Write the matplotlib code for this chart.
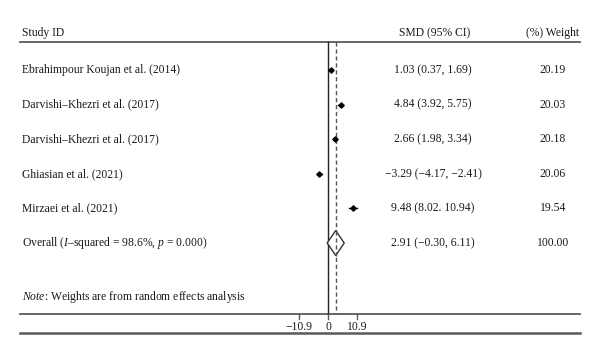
import matplotlib
matplotlib.use("Agg")
import matplotlib.pyplot as plt
from matplotlib.transforms import blended_transform_factory
from matplotlib.patches import Polygon

studies = ["Ebrahimpour Koujan et al. (2014)", "Darvishi\u2013Khezri et al. (2017)",
           "Darvishi\u2013Khezri et al. (2017)", "Ghiasian et al. (2021)", "Mirzaei et al. (2021)"]
smd = [1.03, 4.84, 2.66, -3.29, 9.48]
ci_low = [0.37, 3.92, 1.98, -4.17, 8.02]
ci_high = [1.69, 5.75, 3.34, -2.41, 10.94]
weights = [20.19, 20.03, 20.18, 20.06, 19.54]
ci_labels = ["1.03 (0.37, 1.69)", "4.84 (3.92, 5.75)", "2.66 (1.98, 3.34)",
             "\u22123.29 (\u22124.17, \u22122.41)", "9.48 (8.02. 10.94)"]
overall = 2.91
overall_low = -0.30
overall_high = 6.11
overall_weight = 100.00
overall_label = "Overall ($I$\u2013squared = 98.6%, $p$ = 0.000)"
overall_ci_label = "2.91 (\u22120.30, 6.11)"
ticks = [-10.9, 0, 10.9]
tick_labels = ["\u221210.9", "0", "10.9"]

plt.rcParams['font.family'] = ['Liberation Serif', 'DejaVu Serif']
plt.rcParams['mathtext.fontset'] = 'custom'
plt.rcParams['mathtext.rm'] = 'Liberation Serif'
plt.rcParams['mathtext.it'] = 'Liberation Serif:italic'

W, H = 600, 356
fig = plt.figure(figsize=(6, 3.56), dpi=100)
ax = fig.add_axes([0, 0, 1, 1])
ax.set_axis_off()

# pixel mapping: x_px = x0 + sx*v ; y_px = y0 + sy*r
x0, sx = 328.0, 2.65
y0, sy = 70.0, 34.6
ax.set_xlim(-x0 / sx, (W - x0) / sx)
ax.set_ylim((H - y0) / sy, -y0 / sy)

def r(px):
    return (px - y0) / sy

tr = blended_transform_factory(ax.transAxes, ax.transData)
fs = 8.4
txt_col = '#1a1a1a'
line_col = '#5a5a5a'

# header
ax.text(22 / W, r(33), "Study ID", transform=tr, fontsize=fs, va='center', ha='left', color=txt_col)
ax.text(435 / W, r(33), "SMD (95% CI)", transform=tr, fontsize=fs, va='center', ha='center', color=txt_col)
ax.text(553 / W, r(33), "(%) Weight", transform=tr, fontsize=fs, va='center', ha='center', color=txt_col)

ax.plot([20 / W, 580 / W], [r(42)] * 2, transform=tr, color=line_col, lw=1.3)
ax.plot([20 / W, 580 / W], [r(314)] * 2, transform=tr, color=line_col, lw=1.3)
ax.plot([20 / W, 580 / W], [r(333)] * 2, transform=tr, color=line_col, lw=1.8)

# reference lines
ax.plot([0, 0], [r(42), r(314)], color='#222222', lw=1.0)
ax.plot([overall, overall], [r(42), r(314)], color='#555555', lw=1.0, dashes=(3, 2))

rows = list(range(len(studies)))
for i in rows:
    ax.plot([ci_low[i], ci_high[i]], [i, i], color='black', lw=1.0)
    ax.plot(smd[i], i, marker='D', ms=2.7, color='black', mec='black')
    ax.text(22 / W, i, studies[i], transform=tr, fontsize=fs, va='center', ha='left', color=txt_col)
    ax.text(433 / W, i, ci_labels[i], transform=tr, fontsize=fs, va='center', ha='center', color=txt_col)
    ax.text(553 / W, i, f"{weights[i]:.2f}", transform=tr, fontsize=fs, va='center', ha='center', color=txt_col)

ro = len(studies)
h = 12.5 / sy
diamond = Polygon([(overall_low, ro), (overall, ro - h), (overall_high, ro), (overall, ro + h)],
                  closed=True, facecolor='white', edgecolor='#333333', lw=1.0, zorder=3)
ax.add_patch(diamond)
ax.plot([overall, overall], [ro - h, ro + h], color='#555555', lw=1.0, dashes=(3, 2), zorder=4)
ax.text(22 / W, ro, overall_label, transform=tr, fontsize=fs, va='center', ha='left', color=txt_col)
ax.text(433 / W, ro, overall_ci_label, transform=tr, fontsize=fs, va='center', ha='center', color=txt_col)
ax.text(553 / W, ro, f"{overall_weight:.2f}", transform=tr, fontsize=fs, va='center', ha='center', color=txt_col)

ax.text(22 / W, r(297), "$Note$: Weights are from random effects analysis", transform=tr,
        fontsize=fs, va='center', ha='left', color=txt_col)

for t, lab in zip(ticks, tick_labels):
    ax.plot([t, t], [r(314), r(319)], color=line_col, lw=1.0)
    ax.text(t, r(327), lab, fontsize=fs, va='center', ha='center', color=txt_col)

fig.savefig("out.png", dpi=100)
